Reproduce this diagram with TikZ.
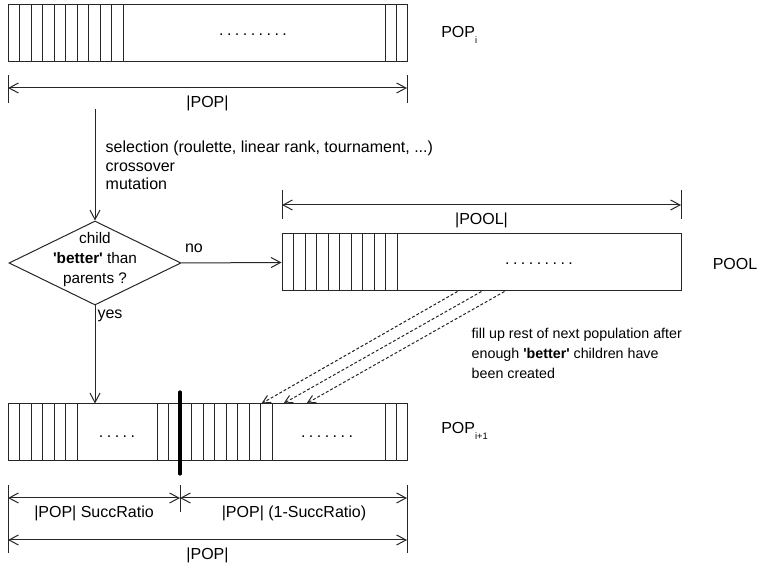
\documentclass[tikz,border=0pt]{standalone}
\usepackage{fontspec}
\setmainfont{Liberation Sans}
\usetikzlibrary{arrows.meta,shapes.geometric,calc}

\newcommand{\celldots}[1]{.\foreach \i in {2,...,#1}{\hspace{2.6pt}.}}

\tikzset{
	thinline/.style={line width=0.75pt, draw=black!85},
	flow/.style={thinline, -{Straight Barb[length=7pt,width=7.5pt]}},
	dimline/.style={thinline, {Straight Barb[length=7pt,width=7.5pt]}-{Straight Barb[length=7pt,width=7.5pt]}},
	fillflow/.style={thinline, dash pattern=on 2.2pt off 1.5pt, -{Straight Barb[length=6pt,width=6pt]}},
	bar/.style={thinline, rectangle, inner sep=0pt, minimum width=399*0.75pt, minimum height=57*0.75pt},
	decision/.style={thinline, diamond, inner sep=0pt, minimum width=172*0.75pt, minimum height=84*0.75pt},
	barlabel/.style={inner sep=0pt},
}

\begin{document}
\begin{tikzpicture}[x=0.75pt, y=-0.75pt, font=\fontsize{12}{14}\selectfont]
	\useasboundingbox (0,0) rectangle (758,566);
	
	%population i
	\node[bar] (popi) at (207.5,33.5) {};
	\foreach \k in {1,...,10}{
		\draw[thinline] (8+11.5*\k,5) -- (8+11.5*\k,62);
	}
	\foreach \x in {385,396}{
		\draw[thinline] (\x,5) -- (\x,62);
	}
	\node (popidots) at (253,35) {\celldots{9}};
	\node[barlabel, anchor=west] (popilabel) at (441,35) {POP\raisebox{-0.7ex}{\scriptsize i}};
	
	%size of population i
	\draw[thinline] (8,75) -- (8,103);
	\draw[thinline] (407,75) -- (407,103);
	\coordinate (popiw) at (8,88);
	\coordinate (popie) at (407,88);
	\draw[dimline] (popiw) -- (popie);
	\node (popisize) at (207.5,103) {|POP|};
	
	%genetic operators
	\coordinate (opstart) at (95,109);
	\node[anchor=west, align=left, font=\fontsize{12}{13.9}\selectfont] (ops) at (101,165.5)
		{selection (roulette, linear rank, tournament, ...)\\crossover\\mutation};
	
	%decision
	\node[decision] (dec) at (95,263) {};
	\node[align=center, font=\fontsize{11.5}{15}\selectfont] (dectext) at (95,260)
		{child\\\textbf{\textquotesingle better\textquotesingle} than\\parents ?};
	\draw[flow] (opstart) -- (dec.north);
	
	%pool
	\node[bar] (pool) at (481.5,262.5) {};
	\foreach \k in {1,...,10}{
		\draw[thinline] (282+11.5*\k,234) -- (282+11.5*\k,291);
	}
	\node (pooldots) at (539,264) {\celldots{9}};
	\node[barlabel, anchor=east] (poollabel) at (757.5,264) {POOL};
	\draw[flow] (dec.east) -- (pool.west);
	\node (no) at (194,248) {no};
	
	%size of pool
	\draw[thinline] (282,190) -- (282,219);
	\draw[thinline] (681,190) -- (681,219);
	\coordinate (poolw) at (282,205);
	\coordinate (poole) at (681,205);
	\draw[dimline] (poolw) -- (poole);
	\node (poolsize) at (481.5,220) {|POOL|};
	
	%population i+1
	\node[bar] (popn) at (207.5,432.5) {};
	\foreach \k in {1,...,6}{
		\draw[thinline] (8+11.5*\k,404) -- (8+11.5*\k,461);
	}
	\foreach \k in {-2,-1,1,2,...,8}{
		\draw[thinline] (180+11.5*\k,404) -- (180+11.5*\k,461);
	}
	\foreach \x in {385,396}{
		\draw[thinline] (\x,404) -- (\x,461);
	}
	\draw[line width=2.4pt, line cap=round] (180,392) -- (180,474);
	\node (popndotsa) at (117,437) {\celldots{5}};
	\node (popndotsb) at (327,437) {\celldots{7}};
	\node[barlabel, anchor=west] (popnlabel) at (441,431) {POP\raisebox{-0.7ex}{\scriptsize i+1}};
	
	\draw[flow] (dec.south) -- (dec.south |- popn.north);
	\node (yes) at (110,316) {yes};
	
	%fill up from pool
	\foreach \a/\b in {176/254, 200/276, 223/299}{
		\draw[fillflow] ($(pool.south west)+(\a,0)$) -- ($(popn.north west)+(\b,0)$);
	}
	\node[anchor=west, align=left, font=\fontsize{10.7}{15}\selectfont] (filltext) at (467,353)
		{fill up rest of next population after\\enough \textbf{\textquotesingle better\textquotesingle} children have\\been created};
	
	%sizes of population i+1
	\draw[thinline] (8,485) -- (8,553);
	\draw[thinline] (180,485) -- (180,512);
	\draw[thinline] (407,485) -- (407,553);
	\coordinate (succw) at (8,498);
	\coordinate (succm) at (180,498);
	\coordinate (succe) at (407,498);
	\draw[dimline] (succw) -- (succm);
	\draw[dimline] (succm) -- (succe);
	\node (succsize) at (94,513) {|POP| SuccRatio};
	\node (restsize) at (294,513) {|POP| (1-SuccRatio)};
	\coordinate (popnw) at (8,540);
	\coordinate (popne) at (407,540);
	\draw[dimline] (popnw) -- (popne);
	\node (popnsize) at (207.5,555) {|POP|};
\end{tikzpicture}
\end{document}
